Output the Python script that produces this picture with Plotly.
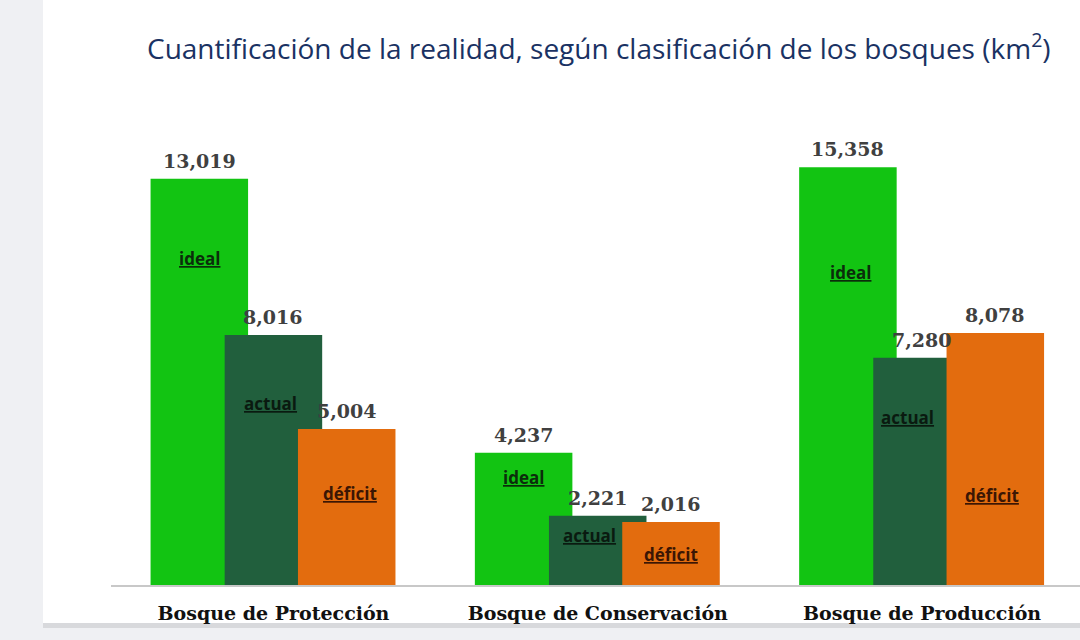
import plotly.graph_objects as go

categories = ["Bosque de Protección", "Bosque de Conservación", "Bosque de Producción"]
ideal = [13019, 4237, 15358]
actual = [8016, 2221, 7280]
deficit = [5004, 2016, 8078]
# the production "ideal" bar is drawn shorter than its label in the source chart
ideal_drawn = [13019, 4237, 13390]

series_names = ["ideal", "actual", "déficit"]
# where the in-bar names sit (km2 on the value axis)
name_y = [
    [10480, 3430, 10030],
    [5830, 1600, 5380],
    [2920, 990, 2880],
]

colors = ["#12c412", "#215f3d", "#e36c0e"]
name_colors = ["#0b2d0b", "#0a1a10", "#3b1604"]

W, H = 1080, 640
L, R, T, B = 111, 0, 105, 55
PW, PH = W - L - R, H - T - B

BAR_W = 0.3007
OFFSETS = [-0.379, -0.1505, 0.0755]


def px_x(p):
    return (p - L) / PW


def px_y(p):
    return (H - B - p) / PH


fig = go.Figure()
x = list(range(len(categories)))
for vals, name, color, off in zip([ideal_drawn, actual, deficit], series_names, colors, OFFSETS):
    fig.add_trace(go.Bar(x=x, y=vals, name=name, marker_color=color, marker_line_width=0,
                         width=BAR_W, offset=off, hoverinfo="skip"))

annotations = []
for labels, heights, off in zip([ideal, actual, deficit], [ideal_drawn, actual, deficit], OFFSETS):
    for i, (lab, h) in enumerate(zip(labels, heights)):
        annotations.append(dict(
            x=i + off + BAR_W / 2, y=h, text=f"{lab:,}", showarrow=False,
            yanchor="bottom", yshift=5,
            font=dict(family="DejaVu Serif", size=19, color="#404040", weight="bold")))

name_shift = [[0, 0, 3], [-3, -8, -15], [3, 0, -3]]
for s, name in enumerate(series_names):
    for i in range(len(categories)):
        annotations.append(dict(
            x=i + OFFSETS[s] + BAR_W / 2, y=name_y[s][i], text=f"<u>{name}</u>",
            showarrow=False, xshift=name_shift[s][i],
            font=dict(family="Open Sans", size=17, color=name_colors[s], weight="bold")))

annotations.append(dict(
    xref="paper", yref="paper", x=px_x(145), y=px_y(47), xanchor="left", yanchor="middle",
    text="Cuantificación de la realidad, según clasificación de los bosques (km<sup>2</sup>)",
    showarrow=False, font=dict(family="Open Sans", size=28, color="#1a3263")))

shapes = [
    dict(type="rect", xref="paper", yref="paper", x0=px_x(43), x1=px_x(W + 5),
         y0=px_y(628), y1=px_y(623), fillcolor="#d8d9dc", line_width=0, layer="below"),
    dict(type="rect", xref="paper", yref="paper", x0=px_x(43), x1=px_x(W + 5),
         y0=px_y(623), y1=px_y(-5), fillcolor="#ffffff", line_width=0, layer="below"),
]

fig.update_layout(
    width=W, height=H,
    margin=dict(l=L, r=R, t=T, b=B),
    paper_bgcolor="#eff0f3",
    plot_bgcolor="rgba(0,0,0,0)",
    barmode="overlay",
    showlegend=False,
    annotations=annotations,
    shapes=shapes,
    xaxis=dict(range=[-0.501, 2.487], tickvals=x, ticktext=categories, showgrid=False,
               zeroline=False, showline=True, linecolor="#c8c8c8", linewidth=1.5,
               ticks="", ticklabelstandoff=10, fixedrange=True,
               tickfont=dict(family="DejaVu Serif", size=19, color="#111111", weight="bold")),
    yaxis=dict(range=[0, PH / 0.0312], visible=False, fixedrange=True),
)

fig.write_html("out.html", config={"displayModeBar": False},
               post_script="document.body.style.margin='0';document.body.style.overflow='hidden';")
